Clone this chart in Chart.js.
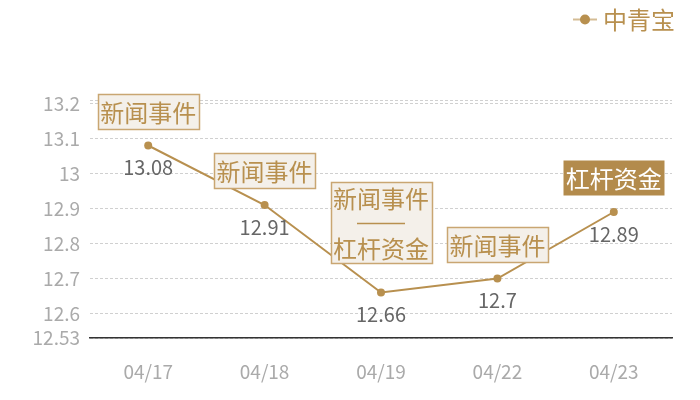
<!DOCTYPE html>
<html>
<head>
<meta charset="utf-8">
<script src="https://cdn.jsdelivr.net/npm/chart.js@4"></script>
<style>
  html, body { margin: 0; padding: 0; background: #fff; }
  #wrap { width: 700px; height: 400px; }
</style>
</head>
<body>
<div id="wrap"><canvas id="c" width="700" height="400"></canvas></div>
<script>
const dates  = ['04/17', '04/18', '04/19', '04/22', '04/23'];
const prices = [13.08, 12.91, 12.66, 12.7, 12.89];
const events = [['新闻事件'], ['新闻事件'], ['新闻事件', '杠杆资金'], ['新闻事件'], ['杠杆资金']];
const yTicks = [12.53, 12.6, 12.7, 12.8, 12.9, 13, 13.1, 13.2, 13.21];
const seriesName = '中青宝';

const GOLD = '#b8904f';
const FONT = "'Noto Sans CJK SC', 'Noto Sans', sans-serif";

// 事件标注 + 数值标签 + 图例
const notePlugin = {
  id: 'notes',
  afterDatasetsDraw(chart) {
    const ctx = chart.ctx;
    const pts = chart.getDatasetMeta(0).data;
    ctx.save();
    ctx.textAlign = 'center';
    ctx.textBaseline = 'middle';

    pts.forEach((p, i) => {
      // value under point
      ctx.font = `20px ${FONT}`;
      ctx.fillStyle = '#666';
      ctx.fillText(String(prices[i]), p.x, p.y + 22);

      const ev = events[i];
      const lines = ev.length > 1 ? [ev[0], '——', ev[1]] : ev;
      const filled = ev.length === 1 && ev[0] === '杠杆资金';
      const w = 101, lh = 25;
      const h = lines.length === 1 ? 35 : lines.length * lh + 6;
      const gap = lines.length === 1 ? 17 : 29;
      const bx = Math.round(p.x - w / 2) + 0.5;
      const by = Math.round(p.y - gap - h) + 0.5;

      if (filled) {
        ctx.fillStyle = '#b38b4c';
        ctx.fillRect(bx, by, w, h);
      } else {
        ctx.fillStyle = '#f4f0ea';
        ctx.fillRect(bx, by, w, h);
        ctx.strokeStyle = '#c9a672';
        ctx.lineWidth = 1.5;
        ctx.strokeRect(bx, by, w, h);
      }
      ctx.font = `24px ${FONT}`;
      ctx.fillStyle = filled ? '#fff' : GOLD;
      const top = by + h / 2 - (lines.length - 1) * lh / 2;
      lines.forEach((t, k) => {
        if (t === '——') {
          ctx.strokeStyle = GOLD;
          ctx.lineWidth = 1.5;
          const ly = Math.round(top + k * lh) + 0.5;
          ctx.beginPath();
          ctx.moveTo(p.x - 24, ly);
          ctx.lineTo(p.x + 24, ly);
          ctx.stroke();
        } else {
          ctx.fillText(t, p.x, top + k * lh + 1);
        }
      });
    });

    // legend
    ctx.strokeStyle = 'rgba(184,144,79,0.6)';
    ctx.lineWidth = 2;
    ctx.beginPath();
    ctx.moveTo(573, 19.5);
    ctx.lineTo(597, 19.5);
    ctx.stroke();
    ctx.fillStyle = GOLD;
    ctx.beginPath();
    ctx.arc(585, 19.5, 5, 0, Math.PI * 2);
    ctx.fill();
    ctx.font = `24px ${FONT}`;
    ctx.textAlign = 'left';
    ctx.fillText(seriesName, 603, 20);
    ctx.restore();
  },
};

new Chart(document.getElementById('c'), {
  type: 'line',
  data: {
    labels: dates,
    datasets: [{
      label: seriesName,
      data: prices,
      borderColor: GOLD,
      backgroundColor: GOLD,
      borderWidth: 2,
      pointRadius: 4,
      pointBackgroundColor: GOLD,
      pointBorderWidth: 0,
      tension: 0,
    }],
  },
  options: {
    responsive: false,
    animation: false,
    layout: { padding: { top: 100, right: 28, left: 0, bottom: 0 } },
    plugins: {
      legend: { display: false },
      tooltip: { enabled: false },
    },
    scales: {
      x: {
        offset: true,
        grid: { display: false },
        border: { color: '#333', width: 1.5 },
        ticks: { color: '#aaa', font: { family: FONT, size: 19 }, padding: 14 },
        afterFit: s => { s.height = 62; },
      },
      y: {
        min: 12.53,
        max: 13.21,
        afterBuildTicks: s => { s.ticks = yTicks.map(v => ({ value: v })); },
        grid: { color: '#d0d0d0', drawTicks: false },
        border: { display: false, dash: [3, 2] },
        ticks: {
          color: '#aaa',
          font: { family: FONT, size: 19 },
          padding: 10,
          callback: v => (v === 13.21 ? '' : String(v)),
        },
        afterFit: s => { s.width = 90; },
      },
    },
  },
  plugins: [notePlugin],
});
</script>
</body>
</html>
